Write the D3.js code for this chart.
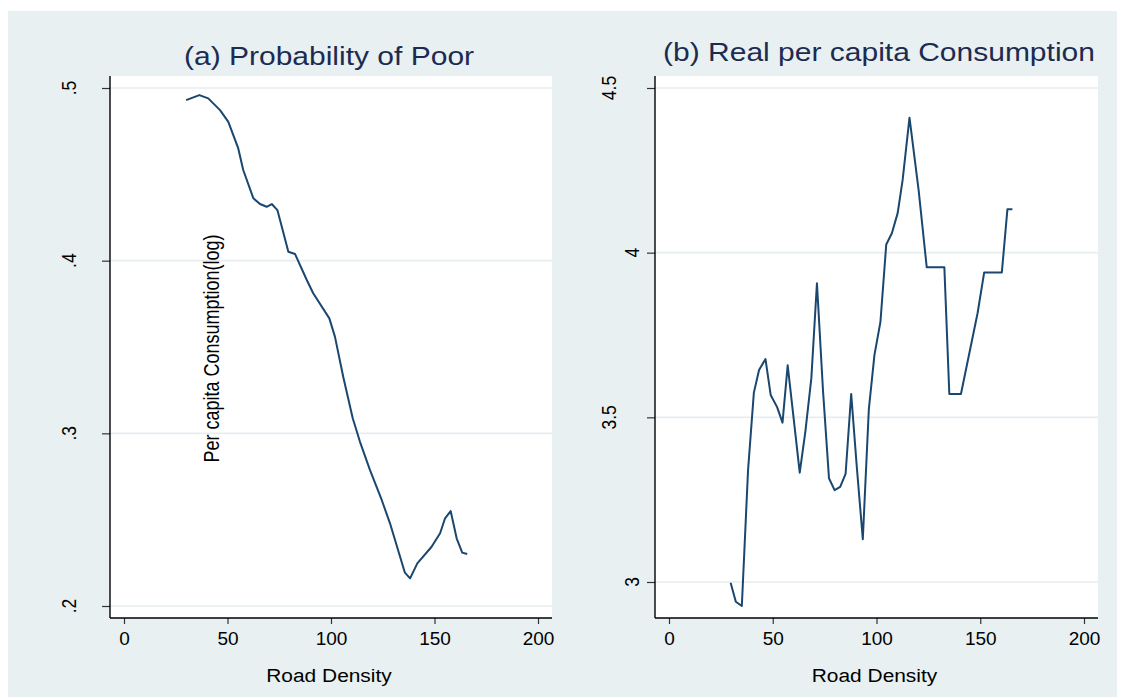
<!DOCTYPE html>
<html>
<head>
<meta charset="utf-8">
<script src="https://cdn.jsdelivr.net/npm/d3@7"></script>
<style>
  body { margin: 0; background: #fff; }
  svg { display: block; font-family: "Liberation Sans", Arial, sans-serif; }
</style>
</head>
<body>
<div id="chart"></div>
<script>
// panel (a): probability of being poor vs road density
const roadA = [30.0, 36.4, 40.7, 46.4, 50.4, 55.2, 57.6, 62.5, 65.7, 68.9, 71.4, 74.1, 79.4, 82.6, 88.3, 91.4, 99.2, 101.9, 105.9, 110.5, 114.0, 118.8, 124.5, 128.5, 135.7, 138.2, 141.7, 148.6, 152.7, 155.1, 157.8, 160.7, 163.4, 165.8];
const probPoor = [0.493, 0.4959, 0.494, 0.4872, 0.4804, 0.465, 0.4525, 0.4361, 0.4328, 0.4312, 0.4328, 0.4293, 0.4052, 0.4039, 0.3888, 0.3811, 0.3666, 0.356, 0.3328, 0.3087, 0.2951, 0.2788, 0.2614, 0.2479, 0.2193, 0.216, 0.2247, 0.2343, 0.2421, 0.2508, 0.255, 0.2392, 0.2309, 0.2301];

// panel (b): real per capita consumption (log) vs road density
const roadB = [29.7, 32.2, 35.1, 38.1, 40.9, 43.4, 46.5, 49.0, 52.1, 54.7, 57.2, 63.0, 65.7, 68.6, 71.3, 74.2, 77.1, 79.8, 82.5, 85.1, 87.8, 90.5, 93.4, 96.3, 99.0, 101.9, 104.7, 107.4, 110.2, 112.6, 115.9, 120.3, 124.2, 132.7, 135.1, 140.7, 148.7, 151.9, 160.4, 163.1, 165.5];
const consumption = [2.998, 2.94, 2.927, 3.34, 3.575, 3.644, 3.677, 3.568, 3.531, 3.484, 3.658, 3.332, 3.456, 3.619, 3.907, 3.583, 3.315, 3.279, 3.289, 3.328, 3.571, 3.35, 3.13, 3.524, 3.689, 3.79, 4.025, 4.059, 4.12, 4.221, 4.41, 4.19, 3.956, 3.956, 3.571, 3.571, 3.816, 3.94, 3.94, 4.132, 4.132];

const xTicks = [0, 50, 100, 150, 200];
const yTicksA = [0.2, 0.3, 0.4, 0.5];
const yLabelsA = [".2", ".3", ".4", ".5"];
const yTicksB = [3, 3.5, 4, 4.5];
const yLabelsB = ["3", "3.5", "4", "4.5"];

const width = 1124, height = 698;
const bg = "#e8f0f2", grid = "#e6eef1", lineColor = "#1a476f", titleColor = "#1c2b50";

const panels = [
  { title: "(a) Probability of Poor", xs: roadA, ys: probPoor, yTicks: yTicksA, yLabels: yLabelsA,
    yDomain: [0.2, 0.5], yRange: [606, 88], left: 110, right: 552, titleX: 329, titleY: 65,
    labelX: () => 68 },
  { title: "(b) Real per capita Consumption", xs: roadB, ys: consumption, yTicks: yTicksB, yLabels: yLabelsB,
    yDomain: [3, 4.5], yRange: [582, 88], left: 655, right: 1098, titleX: 879, titleY: 61,
    labelX: l => l.length === 1 ? 631 : 608 }
];
const plotTop = 76, plotBottom = 618, pad = 14;

const svg = d3.select("#chart").append("svg")
  .attr("width", width).attr("height", height);

svg.append("rect").attr("x", 8).attr("y", 11)
  .attr("width", 1109).attr("height", 686).attr("fill", bg);

panels.forEach(p => {
  const x = d3.scaleLinear().domain([0, 200]).range([p.left + pad, p.right - pad]);
  const y = d3.scaleLinear().domain(p.yDomain).range(p.yRange);
  const g = svg.append("g");

  g.append("rect").attr("x", p.left).attr("y", plotTop)
    .attr("width", p.right - p.left).attr("height", plotBottom - plotTop).attr("fill", "#fff");

  // gridlines
  g.selectAll(".grid").data(p.yTicks).enter().append("line")
    .attr("x1", p.left).attr("x2", p.right)
    .attr("y1", d => y(d)).attr("y2", d => y(d))
    .attr("stroke", grid).attr("stroke-width", 1.6);

  // y axis
  const ya = g.append("g").attr("transform", `translate(${p.left},0)`)
    .call(d3.axisLeft(y).tickValues(p.yTicks).tickSize(8).tickFormat(""));
  ya.select(".domain").remove();
  ya.selectAll(".tick line").attr("stroke", "#333").attr("stroke-width", 1.2);
  g.append("line").attr("x1", p.left).attr("x2", p.left).attr("y1", plotTop).attr("y2", plotBottom)
    .attr("stroke", "#000").attr("stroke-width", 1.4);

  g.selectAll(".ylab").data(p.yTicks).enter().append("text")
    .attr("transform", (d, i) => `translate(${p.labelX(p.yLabels[i])},${y(d)}) scale(1.2,1) rotate(-90)`)
    .attr("text-anchor", "middle").attr("dy", "0.36em")
    .attr("font-size", 17.5).attr("fill", "#000")
    .text((d, i) => p.yLabels[i]);

  // x axis
  const xa = g.append("g").attr("transform", `translate(0,${plotBottom})`)
    .call(d3.axisBottom(x).tickValues(xTicks).tickSize(6).tickPadding(8));
  xa.select(".domain").remove();
  xa.selectAll(".tick line").attr("stroke", "#333").attr("stroke-width", 1.2);
  xa.selectAll(".tick text").attr("font-size", 19).attr("fill", "#000")
    .attr("font-family", "'Liberation Sans', Arial, sans-serif");
  g.append("line").attr("x1", p.left).attr("x2", p.right).attr("y1", plotBottom).attr("y2", plotBottom)
    .attr("stroke", "#000").attr("stroke-width", 1.4);

  const cx = (p.left + p.right) / 2;
  g.append("text")
    .attr("transform", `translate(${cx - 2},682) scale(1.1,1)`)
    .attr("text-anchor", "middle").attr("font-size", 19).attr("fill", "#000")
    .text("Road Density");

  g.append("text")
    .attr("transform", `translate(${p.titleX},${p.titleY}) scale(1.2,1)`)
    .attr("text-anchor", "middle").attr("font-size", 25).attr("fill", titleColor)
    .text(p.title);

  const line = d3.line().x(d => x(d[0])).y(d => y(d[1]));
  g.append("path")
    .datum(p.xs.map((v, i) => [v, p.ys[i]]))
    .attr("d", line)
    .attr("fill", "none").attr("stroke", lineColor).attr("stroke-width", 2)
    .attr("stroke-linejoin", "round");
});

// stray axis title inside panel (a)
svg.append("text")
  .attr("transform", "translate(211,348.5) scale(1.2,1) rotate(-90)")
  .attr("text-anchor", "middle").attr("dy", "0.36em")
  .attr("font-size", 18).attr("fill", "#000")
  .text("Per capita Consumption(log)");
</script>
</body>
</html>
